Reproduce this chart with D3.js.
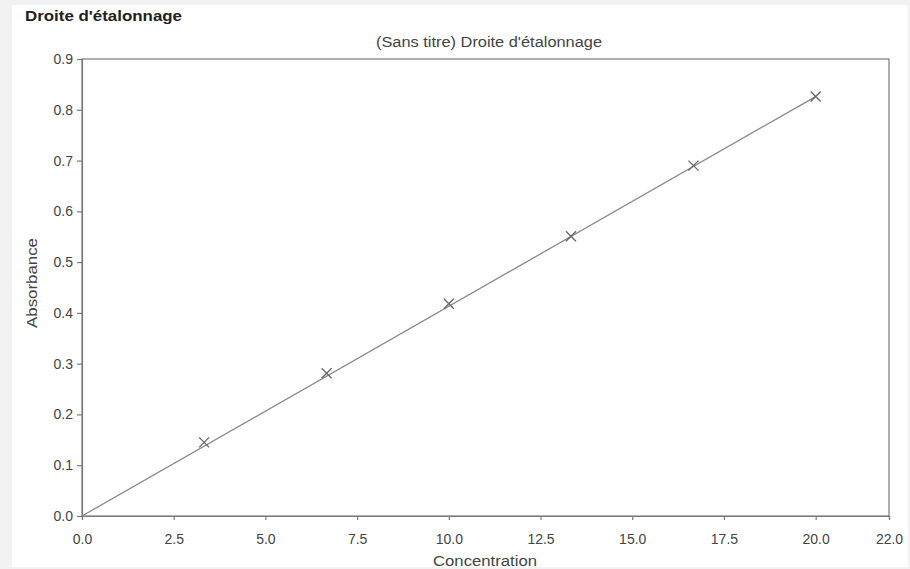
<!DOCTYPE html>
<html>
<head>
<meta charset="utf-8">
<script src="https://cdn.jsdelivr.net/npm/d3@7"></script>
<style>
  body { margin: 0; background: #f2f2f2; }
  text { font-family: "Liberation Sans", Arial, sans-serif; }
</style>
</head>
<body>
<svg id="chart" width="910" height="569"></svg>
<script>
'use strict'

// calibration points
const concentrations = [3.33, 6.67, 10.0, 13.33, 16.67, 20.0]
const absorbances = [0.145, 0.281, 0.418, 0.551, 0.690, 0.826]
const fitLine = [[0, 0], [20.0, 0.826]] // fitted line through origin
const xTicks = [0, 2.5, 5, 7.5, 10, 12.5, 15, 17.5, 20, 22]
const yTicks = [0, 0.1, 0.2, 0.3, 0.4, 0.5, 0.6, 0.7, 0.8, 0.9]

const width = 910
const height = 569
const margin = { top: 59, right: 21, bottom: 53, left: 82 }

const svg = d3.select('#chart')

// white panel
svg.append('rect')
  .attr('x', 12).attr('y', 5)
  .attr('width', 896).attr('height', 562)
  .attr('fill', '#fff')

const x = d3.scaleLinear().domain([0, 22]).range([margin.left, width - margin.right])
const y = d3.scaleLinear().domain([0, 0.9]).range([height - margin.bottom, margin.top])

// frame
svg.append('rect')
  .attr('x', x(0)).attr('y', y(0.9))
  .attr('width', x(22) - x(0)).attr('height', y(0) - y(0.9))
  .attr('fill', 'none').attr('stroke', '#7a7a7a').attr('stroke-width', 1.2)

const xAxis = svg.append('g')
  .attr('transform', 'translate(0,' + y(0) + ')')
  .call(d3.axisBottom(x).tickValues(xTicks).tickFormat(d3.format('.1f')).tickSizeOuter(0).tickSize(4).tickPadding(14))
const yAxis = svg.append('g')
  .attr('transform', 'translate(' + x(0) + ',0)')
  .call(d3.axisLeft(y).tickValues(yTicks).tickFormat(d3.format('.1f')).tickSizeOuter(0).tickSize(5).tickPadding(4))

;[xAxis, yAxis].forEach((g) => {
  g.select('.domain').attr('stroke', '#7a7a7a').attr('stroke-width', 1.2)
  g.selectAll('.tick line').attr('stroke', '#7a7a7a').attr('stroke-width', 1.2)
  g.selectAll('.tick text').attr('fill', '#444').style('font-size', '14px')
})

// fitted line
svg.append('path')
  .datum(fitLine)
  .attr('d', d3.line().x((d) => x(d[0])).y((d) => y(d[1])))
  .attr('fill', 'none').attr('stroke', '#8a8a8a').attr('stroke-width', 1.3)

// x markers
const s = 5
const marks = svg.append('g').selectAll('g')
  .data(concentrations.map((c, i) => [c, absorbances[i]]))
  .enter().append('g')
  .attr('transform', (d) => 'translate(' + x(d[0]) + ',' + y(d[1]) + ')')
marks.append('path')
  .attr('d', 'M' + -s + ',' + -s + 'L' + s + ',' + s + 'M' + -s + ',' + s + 'L' + s + ',' + -s)
  .attr('stroke', '#666').attr('stroke-width', 1.3)

// texts
svg.append('text')
  .attr('x', 25).attr('y', 21)
  .attr('fill', '#222').style('font-size', '14px').style('font-weight', 'bold')
  .attr('textLength', 157).attr('lengthAdjust', 'spacingAndGlyphs')
  .text("Droite d'étalonnage")

svg.append('text')
  .attr('x', 376).attr('y', 47)
  .attr('fill', '#444').style('font-size', '14px')
  .attr('textLength', 226).attr('lengthAdjust', 'spacingAndGlyphs')
  .text("(Sans titre) Droite d'étalonnage")

svg.append('text')
  .attr('x', 433).attr('y', 566)
  .attr('fill', '#444').style('font-size', '14px')
  .attr('textLength', 104).attr('lengthAdjust', 'spacingAndGlyphs')
  .text('Concentration')

svg.append('text')
  .attr('transform', 'translate(37,328) rotate(-90)')
  .attr('fill', '#444').style('font-size', '14px')
  .attr('textLength', 90).attr('lengthAdjust', 'spacingAndGlyphs')
  .text('Absorbance')
</script>
</body>
</html>
